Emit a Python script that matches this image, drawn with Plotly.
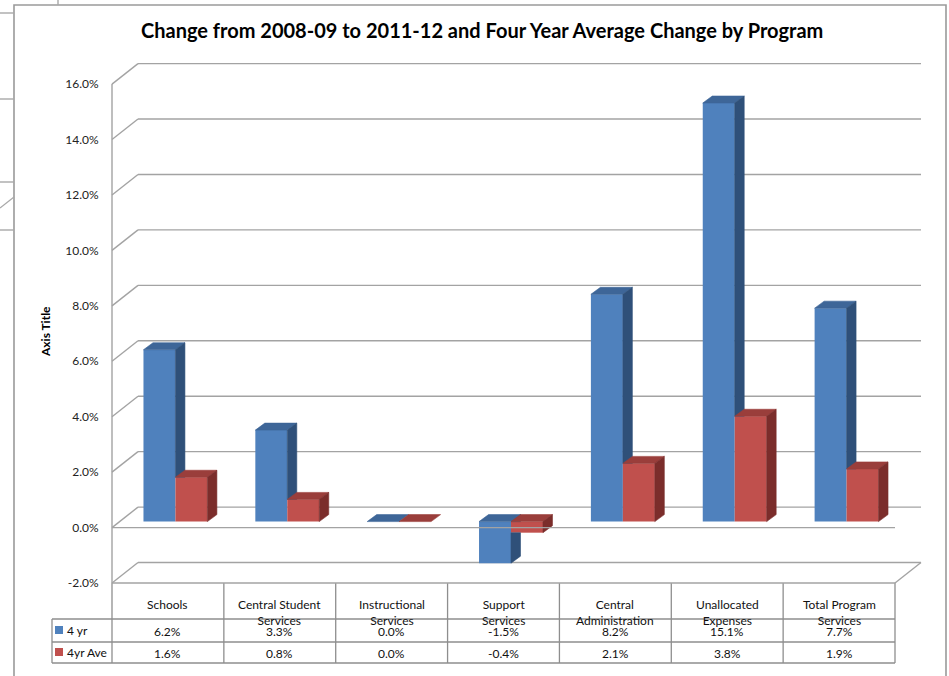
import plotly.graph_objects as go

# ---------------------------------------------------------------- data
categories = [
    "Schools",
    "Central Student<br>Services",
    "Instructional<br>Services",
    "Support<br>Services",
    "Central<br>Administration",
    "Unallocated<br>Expenses",
    "Total Program<br>Services",
]
series_names = ["4 yr", "4yr Ave"]
four_yr = [6.2, 3.3, 0.0, -1.5, 8.2, 15.1, 7.7]
four_yr_ave = [1.6, 0.8, 0.0, -0.4, 2.1, 3.8, 1.9]
y_ticks = [-2, 0, 2, 4, 6, 8, 10, 12, 14, 16]
title_text = "Change from 2008-09 to 2011-12 and Four Year Average Change by Program"
axis_title = "Axis Title"

# ---------------------------------------------------------------- geometry
W_PX, H_PX = 949, 676
FRONT_X0 = 112.0      # pixel x of the first category edge on the front plane
SLOT_PX = 111.857     # pixels per category slot
ZERO_PY = 527.6       # pixel y of 0 % on the front plane
PCT_PX = 27.72        # pixels per 1 %

N = len(categories)
X0 = -FRONT_X0 / SLOT_PX
X1 = X0 + W_PX / SLOT_PX
Y1 = ZERO_PY / PCT_PX
Y0 = Y1 - H_PX / PCT_PX

# wall depth, bar plane offset and bar depth (data units)
WX, WY = 26 / SLOT_PX, 20.5 / PCT_PX
BX, BY = 7.5 / SLOT_PX, 6.0 / PCT_PX
DX, DY = 9.5 / SLOT_PX, 7.0 / PCT_PX
BAR_W = 1 / 3.5       # gap width 150 %

BLUE, BLUE_TOP, BLUE_SIDE = "#4F81BD", "#3E6698", "#2F5079"
RED, RED_TOP, RED_SIDE = "#C0504D", "#9A3E3B", "#7B2D2B"
GRID = "#A3A3A3"
TABLE_LINE = "#8E8E8E"
FONT = "Lato"
TXT = "#111111"


def pxx(px):
    return px / W_PX


def pxy(py):
    return 1 - py / H_PX


def cat_of(px):
    return (px - FRONT_X0) / SLOT_PX


def clip_poly(poly, c, above):
    out = []
    n = len(poly)
    for k in range(n):
        p, q = poly[k], poly[(k + 1) % n]
        pin = p[1] >= c if above else p[1] <= c
        qin = q[1] >= c if above else q[1] <= c
        if pin:
            out.append(p)
        if pin != qin:
            t = (c - p[1]) / (q[1] - p[1])
            out.append((p[0] + t * (q[0] - p[0]), c))
    return out


def area(poly):
    if len(poly) < 3:
        return 0.0
    s = 0.0
    for k in range(len(poly)):
        x1, y1 = poly[k]
        x2, y2 = poly[(k + 1) % len(poly)]
        s += x1 * y2 - x2 * y1
    return abs(s) / 2


def add_polys(xs, ys, polys):
    for poly in polys:
        if area(poly) < 1e-9:
            continue
        for (x, y) in poly:
            xs.append(x)
            ys.append(y)
        xs.append(poly[0][0])
        ys.append(poly[0][1])
        xs.append(None)
        ys.append(None)


fig = go.Figure()

# ---------------------------------------------------------------- front faces
centers = [i + 0.5 for i in range(N)]
fig.add_trace(go.Bar(x=centers, y=four_yr, width=BAR_W, offset=-BAR_W,
                     name=series_names[0], marker=dict(color=BLUE, line=dict(width=0)),
                     xaxis="x2", yaxis="y2", hoverinfo="skip", showlegend=False))
fig.add_trace(go.Bar(x=centers, y=four_yr_ave, width=BAR_W, offset=0,
                     name=series_names[1], marker=dict(color=RED, line=dict(width=0)),
                     xaxis="x2", yaxis="y2", hoverinfo="skip", showlegend=False))

# ---------------------------------------------------------------- top and side faces
faces = {"bt": ([], []), "bs": ([], []), "rt": ([], []), "rs": ([], [])}
for i in range(N):
    vb, vr = four_yr[i], four_yr_ave[i]
    xl = centers[i] - BAR_W
    xm = centers[i]
    xr = centers[i] + BAR_W

    tb = max(vb, 0.0)
    add_polys(*faces["bt"], [[(xl, tb), (xm, tb), (xm + DX, tb + DY), (xl + DX, tb + DY)]])
    lo, hi = min(vb, 0.0), max(vb, 0.0)
    side = [(xm, lo), (xm + DX, lo + DY), (xm + DX, hi + DY), (xm, hi)]
    rlo, rhi = min(vr, 0.0), max(vr, 0.0)
    if hi > lo:
        # the part of the blue side face hidden by the red front face is left out
        add_polys(*faces["bs"], [clip_poly(side, rhi, True), clip_poly(side, rlo, False)])

    tr = max(vr, 0.0)
    add_polys(*faces["rt"], [[(xm, tr), (xr, tr), (xr + DX, tr + DY), (xm + DX, tr + DY)]])
    if rhi > rlo:
        add_polys(*faces["rs"], [[(xr, rlo), (xr + DX, rlo + DY), (xr + DX, rhi + DY), (xr, rhi)]])

for key, col in (("bt", BLUE_TOP), ("bs", BLUE_SIDE), ("rt", RED_TOP), ("rs", RED_SIDE)):
    xs, ys = faces[key]
    fig.add_trace(go.Scatter(x=xs, y=ys, mode="lines", fill="toself", fillcolor=col,
                             line=dict(color=col, width=0.6), xaxis="x2", yaxis="y2",
                             hoverinfo="skip", showlegend=False))

# ---------------------------------------------------------------- walls and gridlines
def line(x0, y0, x1, y1, layer="below", color=GRID, width=1.4, xref="x", yref="y"):
    fig.add_shape(type="line", x0=x0, y0=y0, x1=x1, y1=y1, xref=xref, yref=yref,
                  layer=layer, line=dict(color=color, width=width))


for v in y_ticks:
    line(0, v, WX, v + WY)
    line(WX, v + WY, N + WX, v + WY)
lo_t, hi_t = min(y_ticks), max(y_ticks)
line(0, lo_t, 0, hi_t)
line(0, lo_t, N, lo_t)
line(N, lo_t, N + WX, lo_t + WY)
line(0, 0, N, 0, layer="above")

# ---------------------------------------------------------------- data table
ROW_HEAD_TOP = ZERO_PY - lo_t * PCT_PX
ROW_1 = 619
ROW_2 = 642
ROW_3 = 663
LEG_LEFT = 52

for py in (ROW_1, ROW_2, ROW_3):
    line(cat_of(LEG_LEFT), pxy(py), N, pxy(py), color=TABLE_LINE, width=1.3, yref="paper")
for c in range(N + 1):
    line(c, pxy(ROW_HEAD_TOP), c, pxy(ROW_3), color=TABLE_LINE, width=1.3, yref="paper")
line(cat_of(LEG_LEFT), pxy(ROW_1), cat_of(LEG_LEFT), pxy(ROW_3), color=TABLE_LINE, width=1.3,
     yref="paper")

for i, lab in enumerate(categories):
    fig.add_annotation(x=centers[i], y=pxy(594.5), xref="x", yref="paper", text=lab,
                       showarrow=False, xanchor="center", yanchor="top", align="center",
                       font=dict(family=FONT, size=12, color=TXT))
    fig.add_annotation(x=centers[i], y=pxy(631.5), xref="x", yref="paper",
                       text=f"{four_yr[i]:.1f}%", showarrow=False, xanchor="center",
                       yanchor="middle", font=dict(family=FONT, size=12, color=TXT))
    fig.add_annotation(x=centers[i], y=pxy(653), xref="x", yref="paper",
                       text=f"{four_yr_ave[i]:.1f}%", showarrow=False, xanchor="center",
                       yanchor="middle", font=dict(family=FONT, size=12, color=TXT))

for k, (name, col, py) in enumerate(zip(series_names, (BLUE, RED), (630, 652))):
    fig.add_shape(type="rect", xref="paper", yref="paper", x0=pxx(55), x1=pxx(63),
                  y0=pxy(py - 4), y1=pxy(py + 4), fillcolor=col, line=dict(width=0))
    fig.add_annotation(x=pxx(65), y=pxy(py + 0.5), xref="paper", yref="paper", text=name,
                       showarrow=False, xanchor="left", yanchor="middle",
                       font=dict(family=FONT, size=12, color=TXT))

# ---------------------------------------------------------------- titles
fig.add_annotation(x=pxx(481.5), y=pxy(30), xref="paper", yref="paper",
                   text=f"<b>{title_text}</b>", showarrow=False, xanchor="center",
                   yanchor="middle", font=dict(family=FONT, size=20, color="#000000"))
fig.add_annotation(x=pxx(45), y=pxy(332), xref="paper", yref="paper",
                   text=f"<b>{axis_title}</b>", textangle=-90, showarrow=False,
                   xanchor="center", yanchor="middle",
                   font=dict(family=FONT, size=12, color="#000000"))

# ---------------------------------------------------------------- chart frame and sheet lines
fig.add_shape(type="rect", xref="paper", yref="paper", x0=pxx(14), x1=pxx(946),
              y0=pxy(700), y1=pxy(5), line=dict(color="#9A9A9A", width=1.6), layer="below")
SHEET = "#A8A8A8"
line(pxx(58), pxy(0), pxx(58), pxy(5), color=SHEET, width=1.4, xref="paper", yref="paper")
for py in (13, 99, 182, 230):
    line(pxx(0), pxy(py), pxx(14), pxy(py), color=SHEET, width=1.4, xref="paper", yref="paper")
line(pxx(0), pxy(208), pxx(14), pxy(197), color=SHEET, width=1.2, xref="paper", yref="paper")

# ---------------------------------------------------------------- layout
fig.update_layout(
    width=W_PX, height=H_PX, autosize=False,
    margin=dict(l=0, r=0, t=0, b=0, pad=0),
    paper_bgcolor="white", plot_bgcolor="white",
    barmode="overlay", showlegend=False,
    xaxis=dict(range=[X0, X1], visible=False, fixedrange=True),
    yaxis=dict(range=[Y0, Y1], anchor="free", position=FRONT_X0 / W_PX,
               tickvals=y_ticks, ticktext=[f"{v:.1f}%" for v in y_ticks],
               ticks="outside", ticklen=11, tickcolor="rgba(0,0,0,0)",
               showgrid=False, zeroline=False, showline=False, fixedrange=True,
               tickfont=dict(family=FONT, size=12, color="#222222")),
    xaxis2=dict(range=[X0 - BX, X1 - BX], overlaying="x", anchor="y2", visible=False,
                fixedrange=True),
    yaxis2=dict(range=[Y0 - BY, Y1 - BY], overlaying="y", anchor="x2", visible=False,
                fixedrange=True),
)

fig.write_html("out.html")
